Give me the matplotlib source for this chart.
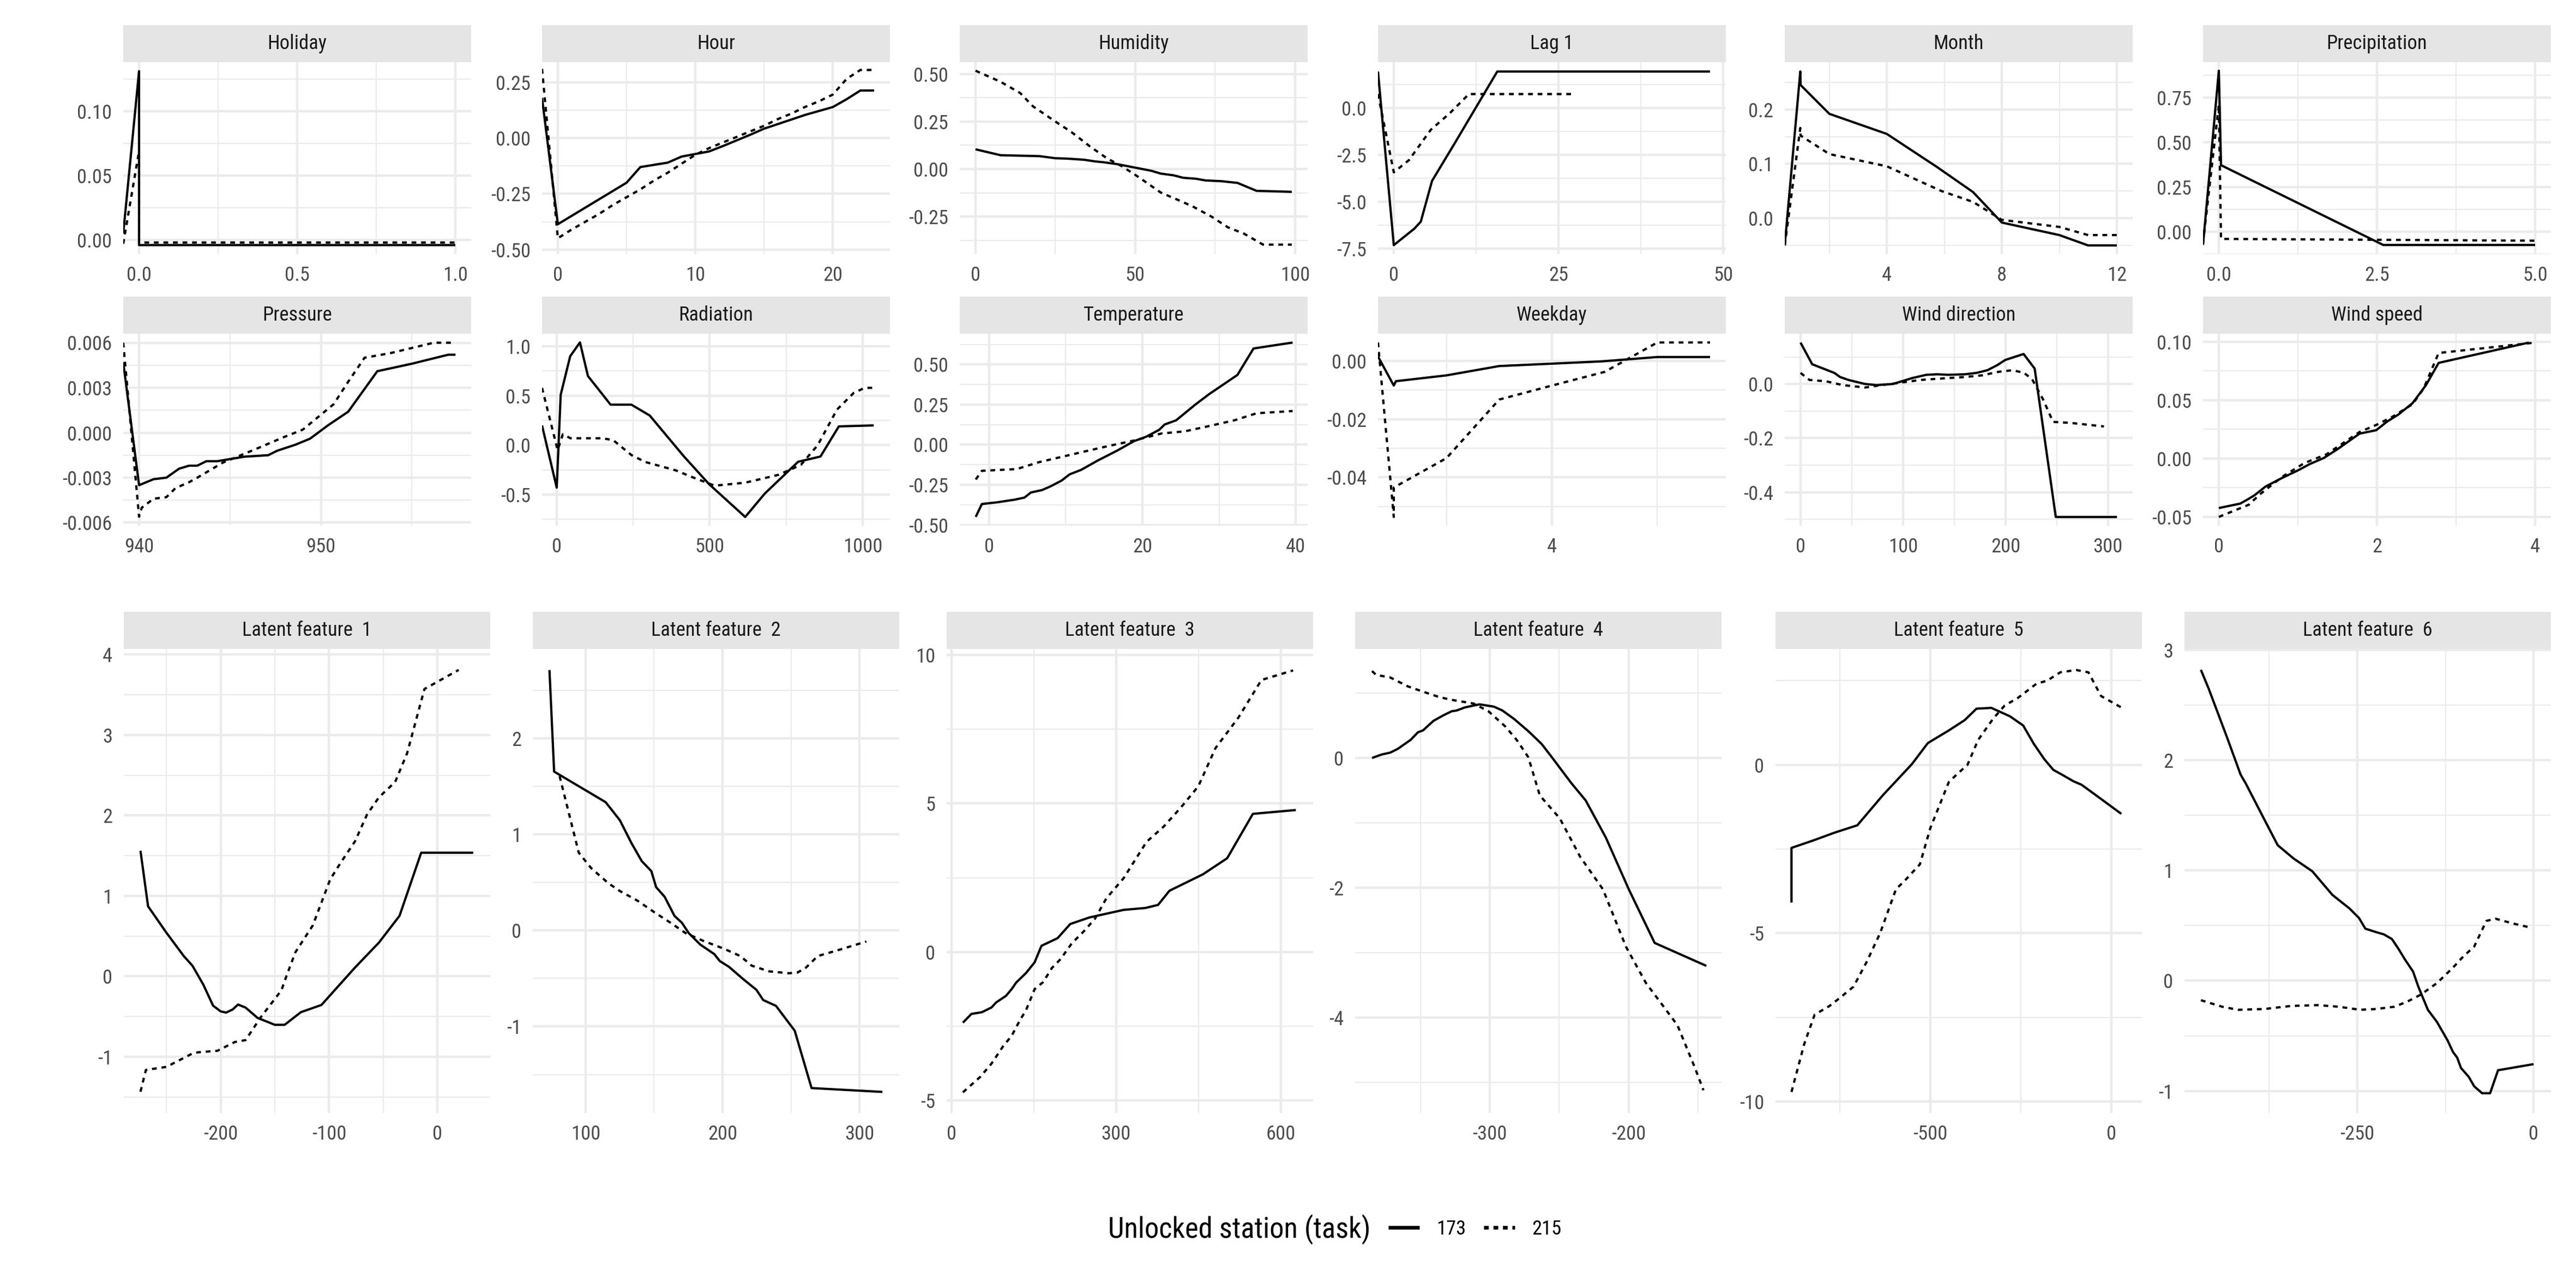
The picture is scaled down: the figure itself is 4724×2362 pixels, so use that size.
import numpy as np
import matplotlib
matplotlib.use("Agg")
import matplotlib.pyplot as plt
from matplotlib import font_manager
from matplotlib.lines import Line2D

# narrow font if available, close to the condensed face of the original
names = {f.name for f in font_manager.fontManager.ttflist}
font = next((n for n in ['Open Sans Condensed Light', 'Liberation Sans Narrow',
                         'Roboto Condensed', 'Open Sans'] if n in names), 'DejaVu Sans')
plt.rcParams['font.family'] = [font, 'DejaVu Sans']

# ---- data: station 173 (solid) and 215 (dashed) ----
hol_x_173 = [-0.05, 0.0, 0.0, 1.0]
hol_y_173 = [0.005, 0.131, -0.004, -0.004]
hol_x_215 = [-0.05, 0.0, 0.0, 1.0]
hol_y_215 = [-0.003, 0.069, -0.002, -0.002]

hour_x_173 = [-1.15, 0, 5, 6, 8, 9, 11, 12, 14, 15, 16.5, 18, 20, 21, 22, 23]
hour_y_173 = [0.18, -0.386, -0.20, -0.13, -0.11, -0.083, -0.06, -0.036, 0.015, 0.042,
              0.073, 0.104, 0.139, 0.174, 0.213, 0.213]
hour_x_215 = [-1.15, 0, 1, 2, 3, 4, 5, 6, 7, 8, 9, 10, 11, 12, 13, 14, 15, 16, 17, 18,
              19, 20, 21, 22, 23]
hour_y_215 = [0.31, -0.449, -0.41, -0.375, -0.34, -0.30, -0.265, -0.23, -0.19, -0.155,
              -0.115, -0.075, -0.045, -0.02, 0.005, 0.03, 0.055, 0.085, 0.11, 0.14,
              0.165, 0.195, 0.265, 0.305, 0.305]

hum_x_173 = [0, 7.8, 20, 25, 28.6, 34, 37.5, 40, 44.3, 49.5, 55, 58, 62, 65, 69, 72, 77,
             82, 88, 93, 99]
hum_y_173 = [0.104, 0.073, 0.068, 0.057, 0.055, 0.049, 0.040, 0.036, 0.026, 0.009,
             -0.009, -0.024, -0.033, -0.046, -0.051, -0.060, -0.064, -0.073, -0.115,
             -0.117, -0.120]
hum_x_215 = [0, 7.8, 14, 18, 25, 30, 35.6, 41, 46, 51, 58, 63, 68, 74, 79, 84, 90, 97, 99]
hum_y_215 = [0.518, 0.46, 0.40, 0.33, 0.25, 0.195, 0.122, 0.058, 0.013, -0.042, -0.124,
             -0.16, -0.197, -0.252, -0.307, -0.34, -0.398, -0.398, -0.398]

lag_x_173 = [-2.4, 0, 3.1, 4.1, 5.8, 9.3, 15.7, 48]
lag_y_173 = [1.94, -7.31, -6.44, -6.06, -3.89, -1.85, 1.94, 1.94]
lag_x_215 = [-2.4, 0, 2.3, 5.6, 8.5, 11.4, 27.4]
lag_y_215 = [0.74, -3.43, -2.78, -1.17, -0.28, 0.74, 0.74]

mon_x_173 = [0.45, 0.99, 1, 2, 4, 5.75, 7, 8, 10, 11, 12]
mon_y_173 = [-0.05, 0.27, 0.245, 0.192, 0.155, 0.094, 0.048, -0.008, -0.031, -0.05, -0.05]
mon_x_215 = [0.45, 0.99, 1, 2, 4, 5.9, 7, 8, 10, 11, 12]
mon_y_215 = [-0.05, 0.166, 0.152, 0.118, 0.0955, 0.05, 0.03, -0.003, -0.016, -0.031, -0.031]

pre_x_173 = [-0.25, 0, 0.035, 2.6, 5.0]
pre_y_173 = [-0.074, 0.90, 0.372, -0.074, -0.074]
pre_x_215 = [-0.25, 0, 0.035, 5.0]
pre_y_215 = [-0.064, 0.71, -0.04, -0.05]

prs_x_173 = [939.13, 940, 940.8, 941.5, 942.2, 942.75, 943.2, 943.7, 944.3, 945.8, 947.1,
             947.6, 948.6, 949.4, 950.4, 951.5, 953.1, 955, 957, 957.4]
prs_y_173 = [0.0047, -0.0035, -0.0031, -0.0030, -0.0024, -0.0022, -0.0022, -0.0019,
             -0.0019, -0.0016, -0.0015, -0.0012, -0.0008, -0.0004, 0.0005, 0.0014,
             0.0041, 0.0046, 0.0052, 0.0052]
prs_x_215 = [939.13, 940, 940.15, 940.8, 941.5, 942, 942.75, 943.2, 944.6, 946.4, 947.95,
             949, 949.8, 950.7, 951.5, 952.4, 953.8, 956.2, 957.4]
prs_y_215 = [0.0060, -0.0056, -0.0050, -0.0044, -0.0043, -0.0037, -0.0033, -0.0030,
             -0.0020, -0.0011, -0.0003, 0.0002, 0.0010, 0.0019, 0.0034, 0.0050, 0.0053,
             0.0060, 0.0060]

rad_x_173 = [-48, 0, 13, 44, 76, 102, 176, 244, 304, 416, 498, 616, 680, 789, 862, 922, 1036]
rad_y_173 = [0.20, -0.43, 0.51, 0.90, 1.04, 0.70, 0.41, 0.41, 0.30, -0.115, -0.395, -0.727,
             -0.49, -0.168, -0.115, 0.19, 0.20]
rad_x_215 = [-48, 3, 20, 45, 100, 150, 185, 244, 289, 389, 444, 516, 616, 725, 798, 853,
             916, 971, 1007, 1036]
rad_y_215 = [0.58, -0.05, 0.11, 0.07, 0.07, 0.07, 0.05, -0.10, -0.17, -0.255, -0.325,
             -0.41, -0.38, -0.30, -0.20, 0.0, 0.36, 0.53, 0.58, 0.58]

tmp_x_173 = [-1.75, -0.95, 1.1, 3.3, 4.6, 5.45, 6.9, 8, 9.45, 10.5, 12, 14.2, 16.7, 18.9,
             20.5, 22.2, 22.9, 24.4, 26.9, 28.7, 32.4, 34.5, 39.6]
tmp_y_173 = [-0.45, -0.37, -0.359, -0.343, -0.33, -0.298, -0.283, -0.26, -0.224, -0.185,
             -0.157, -0.098, -0.037, 0.022, 0.05, 0.093, 0.126, 0.152, 0.25, 0.315, 0.435,
             0.60, 0.637]
tmp_x_215 = [-1.75, -0.95, 3.6, 6.5, 9.45, 12.4, 15.3, 18.9, 22.5, 25.5, 28.4, 32, 34.9, 39.6]
tmp_y_215 = [-0.217, -0.163, -0.152, -0.109, -0.076, -0.043, -0.011, 0.026, 0.07, 0.083,
             0.113, 0.152, 0.196, 0.21]

wd_x_173 = [2.35, 2.5, 2.52, 3.0, 3.5, 4.47, 5.0, 5.5]
wd_y_173 = [0.0015, -0.0085, -0.007, -0.005, -0.0018, -0.0002, 0.0013, 0.0013]
wd_x_215 = [2.35, 2.5, 2.5, 3.0, 3.5, 4.0, 4.5, 5.0, 5.5]
wd_y_215 = [0.0063, -0.0536, -0.0435, -0.0334, -0.0133, -0.0085, -0.0038, 0.0063, 0.0063]

wdir_x_173 = [0, 11.4, 33, 38.5, 46.7, 63, 74, 90, 109, 122.6, 133.5, 144, 160.6, 171.5,
              182.3, 192, 199.7, 217.6, 228.4, 249, 308.7]
wdir_y_173 = [0.153, 0.073, 0.041, 0.026, 0.015, 0.0, -0.004, 0.0, 0.022, 0.034, 0.036,
              0.034, 0.036, 0.041, 0.051, 0.070, 0.089, 0.111, 0.057, -0.492, -0.492]
wdir_x_215 = [0, 8.7, 25, 41, 63, 79, 95.5, 117, 144, 160.6, 177, 193, 206.7, 217.6, 225.7,
              236.6, 246.3, 263.7, 296]
wdir_y_215 = [0.041, 0.015, 0.010, -0.004, -0.013, -0.004, 0.004, 0.015, 0.022, 0.026,
              0.032, 0.045, 0.051, 0.042, 0.019, -0.057, -0.14, -0.144, -0.157]

ws_x_173 = [0, 0.27, 0.365, 0.45, 0.59, 0.8, 1.01, 1.15, 1.33, 1.5, 1.78, 1.99, 2.13, 2.27,
            2.45, 2.62, 2.78, 3.92]
ws_y_173 = [-0.0424, -0.0386, -0.035, -0.0315, -0.024, -0.0166, -0.0098, -0.0047, 0.0006,
            0.008, 0.0214, 0.0243, 0.0318, 0.0377, 0.0475, 0.063, 0.082, 0.0994]
ws_x_215 = [0, 0.38, 0.52, 0.8, 1.08, 1.36, 1.78, 1.99, 2.2, 2.45, 2.59, 2.78, 3.47, 4.0]
ws_y_215 = [-0.05, -0.0395, -0.0306, -0.0157, -0.0039, 0.0036, 0.0228, 0.0288, 0.036,
            0.0466, 0.06, 0.0905, 0.0955, 0.0994]

lf1_x_173 = [-274, -267, -250, -234, -226, -216, -207, -200, -195, -189, -184, -177, -166,
             -150, -141, -126, -107, -76, -54, -35, -15, 33]
lf1_y_173 = [1.56, 0.87, 0.54, 0.25, 0.13, -0.105, -0.366, -0.437, -0.452, -0.414, -0.352,
             -0.39, -0.518, -0.604, -0.604, -0.447, -0.357, 0.109, 0.418, 0.751, 1.536, 1.536]
lf1_x_215 = [-274, -269, -250, -226, -221, -203, -187, -177, -163, -144, -139, -131, -115,
             -99, -89, -76, -65, -54, -39, -28, -12, 19.6]
lf1_y_215 = [-1.436, -1.165, -1.127, -0.96, -0.946, -0.927, -0.818, -0.794, -0.509, -0.176,
             0.014, 0.3, 0.632, 1.203, 1.417, 1.679, 2.01, 2.225, 2.416, 2.772, 3.571, 3.809]

lf2_x_173 = [73.6, 77, 114.6, 125, 133.5, 141, 148, 151.5, 157.7, 164.9, 170.3, 175.3,
             183.7, 194, 198, 204.6, 215, 224.7, 229.7, 239, 252.7, 265, 316.7]
lf2_y_173 = [2.71, 1.653, 1.335, 1.147, 0.908, 0.721, 0.617, 0.45, 0.35, 0.151, 0.08,
             -0.028, -0.147, -0.247, -0.319, -0.378, -0.506, -0.618, -0.725, -0.785,
             -1.044, -1.641, -1.681]
lf2_x_215 = [81, 95, 104, 116.7, 125, 137.7, 150, 162.8, 173, 185.8, 200.4, 213, 221.3,
             234, 248.5, 254.8, 261, 269.5, 284, 305]
lf2_y_215 = [1.606, 0.809, 0.649, 0.49, 0.41, 0.311, 0.191, 0.072, -0.028, -0.108, -0.187,
             -0.267, -0.367, -0.426, -0.446, -0.438, -0.386, -0.267, -0.207, -0.116]

lf3_x_173 = [21, 36.6, 55.4, 73, 81.5, 99.3, 109.8, 118, 136, 151.6, 164, 193.4, 216.4,
             251, 282, 313.6, 353.3, 376.3, 397, 458, 502, 548.8, 627]
lf3_y_173 = [-2.38, -2.086, -2.03, -1.87, -1.70, -1.48, -1.25, -1.03, -0.708, -0.348,
             0.206, 0.464, 0.94, 1.159, 1.287, 1.416, 1.48, 1.584, 2.06, 2.614, 3.154,
             4.648, 4.777]
lf3_x_215 = [21, 52.3, 73, 94, 109.8, 125.4, 136, 151.6, 167, 183, 198.6, 219.5, 240.4,
             261, 282, 313.6, 355.4, 386.7, 418, 449.5, 480.8, 522.6, 564.4, 622]
lf3_y_215 = [-4.725, -4.21, -3.76, -3.18, -2.82, -2.28, -1.957, -1.25, -1.017, -0.54,
             -0.245, 0.296, 0.682, 1.107, 1.8, 2.485, 3.708, 4.223, 4.867, 5.575, 6.862,
             7.892, 9.154, 9.476]

lf4_x_173 = [-384.7, -377.7, -371.5, -366, -361, -357, -351.7, -348, -340.5, -333, -327.3,
             -324, -317.8, -307.4, -297, -291, -282.6, -272.3, -262.8, -255.8, -241.3,
             -231, -216.5, -200, -181.4, -144.2]
lf4_y_173 = [0.0, 0.053, 0.083, 0.142, 0.218, 0.277, 0.395, 0.425, 0.572, 0.661, 0.72,
             0.73, 0.779, 0.826, 0.79, 0.732, 0.602, 0.413, 0.218, 0.024, -0.389, -0.655,
             -1.227, -2.024, -2.85, -3.204]
lf4_x_215 = [-384.7, -381.8, -371.5, -359, -348.8, -336.4, -328, -311.6, -301, -288.8,
             -280.6, -272.3, -264, -249.6, -235, -218.6, -202, -187.6, -177.3, -165,
             -152.5, -146.3]
lf4_y_215 = [1.339, 1.28, 1.239, 1.103, 1.027, 0.938, 0.897, 0.838, 0.72, 0.484, 0.277,
             0.012, -0.578, -0.932, -1.522, -2.024, -2.91, -3.47, -3.764, -4.118, -4.77,
             -5.12]

lf5_x_173 = [-884, -884, -822.6, -764, -702, -632, -551, -507, -449, -405, -372.4, -331.4,
             -280, -243.4, -214, -185, -160, -133.4, -104, -82, -45.5, 28]
lf5_y_173 = [-4.09, -2.466, -2.24, -2.01, -1.795, -0.909, 0.023, 0.648, 1.023, 1.33, 1.67,
             1.693, 1.443, 1.17, 0.625, 0.17, -0.148, -0.307, -0.489, -0.59, -0.875, -1.455]
lf5_x_215 = [-884, -849, -820, -778.6, -749, -712.6, -676, -639, -595, -573, -529, -500,
             -449, -427, -397.4, -368, -327, -294.7, -258, -206.7, -177.4, -140.8, -96.7,
             -63, -28, 28]
lf5_y_215 = [-9.716, -8.3, -7.42, -7.16, -6.91, -6.59, -5.85, -5.0, -3.69, -3.466, -2.955,
             -1.875, -0.511, -0.284, 0.0, 0.739, 1.364, 1.761, 1.989, 2.41, 2.5, 2.75,
             2.818, 2.75, 2.045, 1.705]

lf6_x_173 = [-472, -461, -434.5, -415.7, -408, -385.6, -363, -340.4, -314, -285.4, -261.3,
             -247.7, -238.7, -223.6, -212.3, -201, -192, -182, -171, -163.4, -150, -137,
             -122, -114.4, -108.4, -103, -92, -84.3, -73, -61.7, -50.4, 0]
lf6_y_173 = [2.82, 2.65, 2.2, 1.87, 1.785, 1.507, 1.229, 1.108, 0.993, 0.778, 0.656, 0.569,
             0.472, 0.441, 0.42, 0.378, 0.292, 0.1875, 0.083, -0.056, -0.264, -0.375,
             -0.542, -0.646, -0.698, -0.792, -0.872, -0.958, -1.021, -1.021, -0.8125, -0.757]
lf6_x_215 = [-472, -442, -419.5, -382, -344, -306.5, -276.4, -246.3, -223.6, -197.3,
             -178.4, -159.6, -137, -114.4, -99.4, -84.3, -67, -54.2, -28, -5]
lf6_y_215 = [-0.177, -0.236, -0.264, -0.257, -0.229, -0.222, -0.236, -0.264, -0.257,
             -0.236, -0.1875, -0.125, -0.021, 0.118, 0.222, 0.309, 0.542, 0.5625, 0.517, 0.483]

stations = ['173', '215']

# title, x173, y173, x215, y215, xlim, ylim, xbreaks, xfmt, ybreaks, yfmt
top_panels = [
    ('Holiday', hol_x_173, hol_y_173, hol_x_215, hol_y_215, (-0.05, 1.05), (-0.011, 0.138),
     [0, 0.5, 1.0], '%.1f', [0, 0.05, 0.10], '%.2f'),
    ('Hour', hour_x_173, hour_y_173, hour_x_215, hour_y_215, (-1.15, 24.15), (-0.52, 0.34),
     [0, 10, 20], '%d', [-0.5, -0.25, 0, 0.25], '%.2f'),
    ('Humidity', hum_x_173, hum_y_173, hum_x_215, hum_y_215, (-4.95, 103.95), (-0.448, 0.563),
     [0, 50, 100], '%d', [-0.25, 0, 0.25, 0.5], '%.2f'),
    ('Lag 1', lag_x_173, lag_y_173, lag_x_215, lag_y_215, (-2.4, 50.4), (-7.79, 2.44),
     [0, 25, 50], '%d', [-7.5, -5, -2.5, 0], '%.1f'),
    ('Month', mon_x_173, mon_y_173, mon_x_215, mon_y_215, (0.45, 12.55), (-0.066, 0.287),
     [0, 4, 8, 12], '%d', [0, 0.1, 0.2], '%.1f'),
    ('Precipitation', pre_x_173, pre_y_173, pre_x_215, pre_y_215, (-0.25, 5.25), (-0.125, 0.948),
     [0, 2.5, 5.0], '%.1f', [0, 0.25, 0.5, 0.75], '%.2f'),
    ('Pressure', prs_x_173, prs_y_173, prs_x_215, prs_y_215, (939.13, 958.26), (-0.0062, 0.0066),
     [940, 950, 960], '%d', [-0.006, -0.003, 0, 0.003, 0.006], '%.3f'),
    ('Radiation', rad_x_173, rad_y_173, rad_x_215, rad_y_215, (-48, 1089), (-0.815, 1.128),
     [0, 500, 1000], '%d', [-0.5, 0, 0.5, 1.0], '%.1f'),
    ('Temperature', tmp_x_173, tmp_y_173, tmp_x_215, tmp_y_215, (-3.84, 41.56), (-0.505, 0.692),
     [0, 20, 40], '%d', [-0.5, -0.25, 0, 0.25, 0.5], '%.2f'),
    ('Weekday', wd_x_173, wd_y_173, wd_x_215, wd_y_215, (2.35, 5.65), (-0.0566, 0.0093),
     [2, 4, 6], '%d', [-0.04, -0.02, 0], '%.2f'),
    ('Wind direction', wdir_x_173, wdir_y_173, wdir_x_215, wdir_y_215, (-15.4, 324), (-0.524, 0.186),
     [0, 100, 200, 300], '%d', [-0.4, -0.2, 0], '%.1f'),
    ('Wind speed', ws_x_173, ws_y_173, ws_x_215, ws_y_215, (-0.2, 4.2), (-0.0575, 0.107),
     [0, 2, 4], '%d', [-0.05, 0, 0.05, 0.10], '%.2f'),
]
bottom_panels = [
    ('Latent feature  1', lf1_x_173, lf1_y_173, lf1_x_215, lf1_y_215, (-289.4, 48.7), (-1.70, 4.07),
     [-300, -200, -100, 0], '%d', [-1, 0, 1, 2, 3, 4], '%d'),
    ('Latent feature  2', lf2_x_173, lf2_y_173, lf2_x_215, lf2_y_215, (61.4, 329), (-1.90, 2.93),
     [100, 200, 300], '%d', [-1, 0, 1, 2], '%d'),
    ('Latent feature  3', lf3_x_173, lf3_y_173, lf3_x_215, lf3_y_215, (-8.6, 658.4), (-5.42, 10.2),
     [0, 300, 600], '%d', [-5, 0, 5, 10], '%d'),
    ('Latent feature  4', lf4_x_173, lf4_y_173, lf4_x_215, lf4_y_215, (-396.9, -133.3), (-5.47, 1.68),
     [-400, -300, -200, -100], '%d', [-6, -4, -2, 0, 2], '%d'),
    ('Latent feature  5', lf5_x_173, lf5_y_173, lf5_x_215, lf5_y_215, (-928.2, 85), (-10.34, 3.445),
     [-1000, -500, 0], '%d', [-10, -5, 0, 5], '%d'),
    ('Latent feature  6', lf6_x_173, lf6_y_173, lf6_x_215, lf6_y_215, (-495.3, 24.6), (-1.2, 3.01),
     [-500, -250, 0], '%d', [-1, 0, 1, 2, 3], '%d'),
]

W, H = 4724, 2362
fig = plt.figure(figsize=(W / 300, H / 300), dpi=300)
fig.patch.set_facecolor('white')

DASH = (0, (2.1, 2.1))
GRID = '#EBEBEB'


def px_axes(l, t, w, h):
    return fig.add_axes([l / W, 1 - (t + h) / H, w / W, h / H])


def minors(b):
    step = b[1] - b[0]
    return np.arange(b[0] - 1.5 * step, b[-1] + 2 * step, step)


def draw_panel(spec, left, top, width, height, strip_h=68):
    title, x1, y1, x2, y2, xlim, ylim, xb, xf, yb, yf = spec
    # facet strip
    s = px_axes(left, top - strip_h, width, strip_h)
    s.set_facecolor('#E5E5E5')
    s.set_xticks([]); s.set_yticks([])
    for sp in s.spines.values():
        sp.set_visible(False)
    s.text(0.5, 0.5, title, ha='center', va='center', fontsize=8.8, color='#1A1A1A',
           transform=s.transAxes)

    ax = px_axes(left, top, width, height)
    ax.plot(x1, y1, color='black', lw=1.0, solid_capstyle='butt', solid_joinstyle='round')
    ax.plot(x2, y2, color='black', lw=1.0, linestyle=DASH, dash_capstyle='butt')
    ax.set_xticks(xb, [xf % v for v in xb])
    ax.set_yticks(yb, [yf % v for v in yb])
    ax.set_xticks(minors(xb), minor=True)
    ax.set_yticks(minors(yb), minor=True)
    # limits last, set_xticks would widen them
    ax.set_xlim(*xlim); ax.set_ylim(*ylim)
    ax.grid(which='major', color=GRID, lw=1.07)
    ax.grid(which='minor', color=GRID, lw=0.53)
    ax.set_axisbelow(True)
    ax.tick_params(which='both', length=0, labelsize=8.8, labelcolor='#4D4D4D', pad=5)
    for sp in ax.spines.values():
        sp.set_visible(False)


top_lefts = [226, 994, 1760, 2527, 3273, 4040]
for i, spec in enumerate(top_panels):
    row, col = divmod(i, 6)
    draw_panel(spec, top_lefts[col], [114, 612][row], 638, 352)

bot_lefts = [227, 977, 1736, 2485, 3256, 4006]
for i, spec in enumerate(bottom_panels):
    draw_panel(spec, bot_lefts[i], 1190, 672, 851)

# legend: title on the left, keys to its right
ly = 1 - 2254 / H
title = fig.text(2514 / W, ly, 'Unlocked station (task)', ha='right', va='center',
                 fontsize=11, color='black')
# widen the title to the span it has in the original (about 482 px)
tw = title.get_window_extent(fig.canvas.get_renderer()).width
title.set_fontsize(min(13.5, 11 * 482 / tw))
handles = [Line2D([], [], color='black', lw=1.6, solid_capstyle='butt'),
           Line2D([], [], color='black', lw=1.6, linestyle=(0, (1.3, 1.3)), dash_capstyle='butt')]
fig.legend(handles, stations, loc='center left', bbox_to_anchor=(2546 / W, ly), ncol=2,
           frameon=False, fontsize=8.8, handlelength=1.55, handletextpad=0.85,
           columnspacing=0.9, borderpad=0, borderaxespad=0)

fig.savefig('out.png', dpi=300, facecolor='white')
